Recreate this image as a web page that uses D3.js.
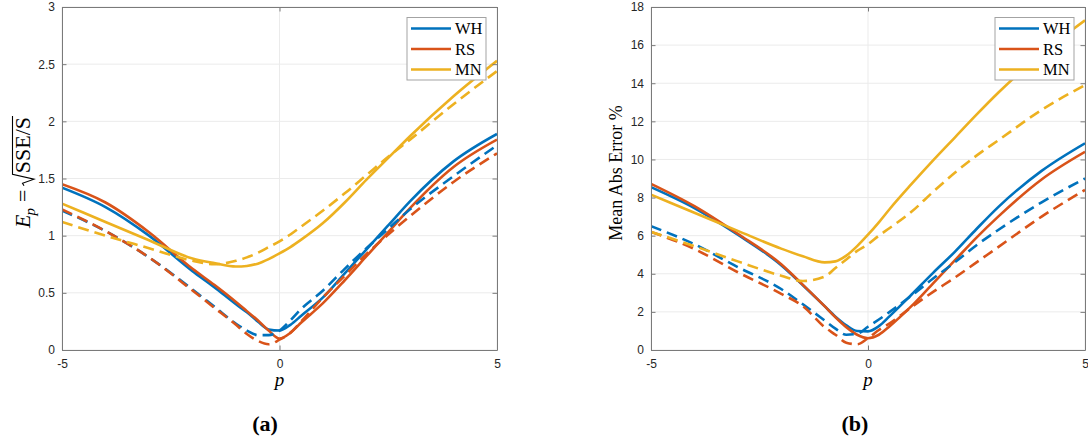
<!DOCTYPE html>
<html>
<head>
<meta charset="utf-8">
<script src="https://cdn.jsdelivr.net/npm/d3@7"></script>
<style>
  body { margin: 0; background: #fff; }
  svg { display: block; }
</style>
</head>
<body>
<svg id="fig" width="1088" height="446"></svg>
<script>
// Grid of the parameter p shared by every curve
const pGrid = [-5, -4, -3, -2, -1.5, -1, -0.75, -0.5, -0.25, 0, 0.25, 0.5, 1, 1.5, 2, 2.5, 3, 4, 5];

// Series names shown in the legends
const seriesNames = ["WH", "RS", "MN"];

// Panel (a): E_p, solid curves
const epWH = [1.42, 1.25, 1.00, 0.69, 0.55, 0.40, 0.33, 0.25, 0.18, 0.17, 0.22, 0.30, 0.46, 0.67, 0.88, 1.09, 1.30, 1.65, 1.89];
const epRS = [1.45, 1.29, 1.03, 0.71, 0.57, 0.42, 0.34, 0.26, 0.17, 0.10, 0.15, 0.24, 0.41, 0.61, 0.82, 1.03, 1.24, 1.60, 1.84];
const epMN = [1.28, 1.12, 0.96, 0.80, 0.76, 0.73, 0.735, 0.755, 0.795, 0.845, 0.90, 0.965, 1.11, 1.29, 1.49, 1.68, 1.87, 2.22, 2.53];
// Panel (a): E_p, dashed curves
const epWHd = [1.22, 1.04, 0.81, 0.53, 0.38, 0.23, 0.17, 0.13, 0.13, 0.17, 0.26, 0.36, 0.52, 0.71, 0.89, 1.06, 1.23, 1.52, 1.79];
const epRSd = [1.23, 1.04, 0.81, 0.52, 0.37, 0.22, 0.14, 0.08, 0.05, 0.09, 0.15, 0.25, 0.46, 0.65, 0.84, 1.01, 1.17, 1.47, 1.72];
const epMNd = [1.12, 1.00, 0.89, 0.78, 0.75, 0.78, 0.81, 0.85, 0.90, 0.95, 1.01, 1.08, 1.22, 1.37, 1.53, 1.69, 1.84, 2.15, 2.44];

// Panel (b): mean absolute error %, solid curves
const maeWH = [8.55, 7.45, 6.05, 4.45, 3.40, 2.30, 1.75, 1.30, 1.00, 0.98, 1.25, 1.78, 2.90, 4.05, 5.15, 6.35, 7.50, 9.40, 10.85];
const maeRS = [8.72, 7.55, 6.10, 4.50, 3.42, 2.30, 1.72, 1.20, 0.80, 0.62, 0.80, 1.25, 2.30, 3.50, 4.70, 5.90, 7.00, 8.95, 10.40];
const maeMN = [8.15, 7.20, 6.25, 5.32, 4.92, 4.60, 4.65, 4.95, 5.45, 6.05, 6.70, 7.40, 8.70, 9.95, 11.15, 12.35, 13.50, 15.55, 17.30];
// Panel (b): mean absolute error %, dashed curves
const maeWHd = [6.50, 5.55, 4.35, 3.20, 2.40, 1.55, 1.12, 0.80, 0.85, 1.22, 1.60, 2.00, 2.85, 3.75, 4.60, 5.50, 6.30, 7.75, 9.00];
const maeRSd = [6.20, 5.30, 4.08, 2.95, 2.30, 1.20, 0.80, 0.38, 0.30, 0.62, 1.05, 1.40, 2.25, 3.05, 3.80, 4.60, 5.40, 7.00, 8.40];
const maeMNd = [6.20, 5.45, 4.65, 3.90, 3.62, 3.85, 4.30, 4.75, 5.20, 5.55, 6.00, 6.40, 7.25, 8.30, 9.30, 10.20, 11.00, 12.60, 13.90];

// Tick values
const xTicks = [-5, 0, 5];
const yTicksA = [0, 0.5, 1, 1.5, 2, 2.5, 3];
const yTicksB = [0, 2, 4, 6, 8, 10, 12, 14, 16, 18];

const colors = { WH: "#0072BD", RS: "#D95319", MN: "#EDB120" };
const serif = "'Liberation Serif', 'DejaVu Serif', serif";
const sans = "'Liberation Sans', Arial, Helvetica, sans-serif";
const svg = d3.select("#fig");

function drawPanel(cfg) {
  const { left, right, top, bottom } = cfg.box;
  const x = d3.scaleLinear().domain([-5, 5]).range([left, right]);
  const y = d3.scaleLinear().domain(cfg.yDomain).range([bottom, top]);
  const g = svg.append("g");

  // grid
  g.append("g").selectAll("line").data(cfg.yTicks).join("line")
    .attr("x1", left).attr("x2", right)
    .attr("y1", d => y(d)).attr("y2", d => y(d))
    .attr("stroke", "#ebebeb").attr("stroke-width", 1);
  g.append("g").selectAll("line").data(xTicks).join("line")
    .attr("y1", top).attr("y2", bottom)
    .attr("x1", d => x(d)).attr("x2", d => x(d))
    .attr("stroke", "#ebebeb").attr("stroke-width", 1);

  // curves
  const clipId = "clip-" + cfg.id;
  g.append("clipPath").attr("id", clipId).append("rect")
    .attr("x", left).attr("y", top).attr("width", right - left).attr("height", bottom - top);
  const line = d3.line().x(d => x(d[0])).y(d => y(d[1])).curve(d3.curveMonotoneX);
  const curves = g.append("g").attr("clip-path", `url(#${clipId})`);
  cfg.series.forEach(s => {
    curves.append("path")
      .datum(pGrid.map((p, i) => [p, s.values[i]]))
      .attr("d", line)
      .attr("fill", "none")
      .attr("stroke", colors[s.name])
      .attr("stroke-width", 2.6)
      .attr("stroke-linejoin", "round")
      .attr("stroke-dasharray", s.dashed ? "11,6" : null);
  });

  // axes with inward ticks on all four sides
  const tickLen = 4.5;
  const axisColor = "#262626";
  const xAxisB = d3.axisBottom(x).tickValues(xTicks).tickSizeInner(-tickLen).tickSizeOuter(0).tickPadding(9).tickFormat(d => String(d));
  const xAxisT = d3.axisTop(x).tickValues(xTicks).tickSizeInner(-tickLen).tickSizeOuter(0).tickFormat("");
  const yAxisL = d3.axisLeft(y).tickValues(cfg.yTicks).tickSizeInner(-tickLen).tickSizeOuter(0).tickPadding(7).tickFormat(d => String(d));
  const yAxisR = d3.axisRight(y).tickValues(cfg.yTicks).tickSizeInner(-tickLen).tickSizeOuter(0).tickFormat("");
  const style = sel => {
    sel.select(".domain").attr("stroke", "#7a7a7a").attr("stroke-width", 1);
    sel.selectAll(".tick line").attr("stroke", "#7a7a7a").attr("stroke-width", 1);
    sel.selectAll("text").attr("font-family", sans).attr("font-size", 12).attr("fill", axisColor);
  };
  g.append("g").attr("transform", `translate(0,${bottom})`).call(xAxisB).call(style);
  g.append("g").attr("transform", `translate(0,${top})`).call(xAxisT).call(style);
  g.append("g").attr("transform", `translate(${left},0)`).call(yAxisL).call(style);
  g.append("g").attr("transform", `translate(${right},0)`).call(yAxisR).call(style);

  // x label
  g.append("text").attr("x", x(0)).attr("y", 386)
    .attr("text-anchor", "middle").attr("font-family", serif)
    .attr("font-style", "italic").attr("font-size", 19).attr("fill", "#000").text("p");

  // caption
  g.append("text").attr("x", cfg.captionX).attr("y", 431)
    .attr("text-anchor", "middle").attr("font-family", serif)
    .attr("font-weight", "bold").attr("font-size", 22).attr("fill", "#000").text(cfg.caption);

  // legend
  const lg = g.append("g").attr("transform", `translate(${right - 90},${top + 10.5})`);
  lg.append("rect").attr("x", 0).attr("y", 0).attr("width", 79).attr("height", 62.5)
    .attr("fill", "#fff").attr("stroke", "#a3a3a3").attr("stroke-width", 1);
  seriesNames.forEach((name, i) => {
    const ry = 11 + i * 20.5;
    lg.append("line").attr("x1", 4).attr("x2", 44).attr("y1", ry).attr("y2", ry)
      .attr("stroke", colors[name]).attr("stroke-width", 2.6);
    lg.append("text").attr("x", 48).attr("y", ry).attr("dy", "0.35em")
      .attr("font-family", serif).attr("font-size", 16.5).attr("fill", "#000").text(name);
  });

  return g;
}

const gA = drawPanel({
  id: "a",
  box: { left: 62, right: 497, top: 7, bottom: 350 },
  yDomain: [0, 3],
  yTicks: yTicksA,
  caption: "(a)", captionX: 265,
  series: [
    { name: "WH", values: epWH }, { name: "RS", values: epRS }, { name: "MN", values: epMN },
    { name: "WH", values: epWHd, dashed: true }, { name: "RS", values: epRSd, dashed: true }, { name: "MN", values: epMNd, dashed: true }
  ]
});

const gB = drawPanel({
  id: "b",
  box: { left: 651, right: 1085, top: 7, bottom: 350 },
  yDomain: [0, 18],
  yTicks: yTicksB,
  caption: "(b)", captionX: 855,
  series: [
    { name: "WH", values: maeWH }, { name: "RS", values: maeRS }, { name: "MN", values: maeMN },
    { name: "WH", values: maeWHd, dashed: true }, { name: "RS", values: maeRSd, dashed: true }, { name: "MN", values: maeMNd, dashed: true }
  ]
});

// y label of panel (a): E_p = sqrt(SSE/S), laid out along a rotated baseline
(function () {
  const outer = gA.append("g").attr("transform", "translate(30,172) rotate(-90)");
  const inner = outer.append("g");
  const fs = 22;
  let cx = 0;
  const put = (txt, opt) => {
    const t = inner.append("text").attr("x", cx).attr("y", opt.dy || 0)
      .attr("font-family", serif).attr("font-size", opt.size || fs)
      .attr("font-style", opt.italic ? "italic" : "normal").attr("fill", "#000").text(txt);
    const w = t.node().getComputedTextLength();
    cx += w + (opt.after || 0);
    return w;
  };
  put("E", { italic: true, after: -1 });
  put("p", { italic: true, size: 15, dy: 5, after: 6 });
  put("=", { after: 4 });
  const r = cx;
  const start = r + 12.5;
  cx = start;
  put("SSE/S", {});
  const end = cx + 1;
  inner.append("path")
    .attr("d", `M${r},-6 L${r + 2.5},-7.5 L${r + 6.5},4 L${r + 11.5},-17.5 H${end}`)
    .attr("fill", "none").attr("stroke", "#000").attr("stroke-width", 1.1)
    .attr("stroke-linejoin", "miter");
  inner.attr("transform", `translate(${-end / 2},0)`);
})();

// y label of panel (b)
gB.append("text")
  .attr("transform", "translate(622,173) rotate(-90)")
  .attr("text-anchor", "middle").attr("font-family", serif)
  .attr("font-size", 18).attr("fill", "#000").text("Mean Abs Error %");
</script>
</body>
</html>
